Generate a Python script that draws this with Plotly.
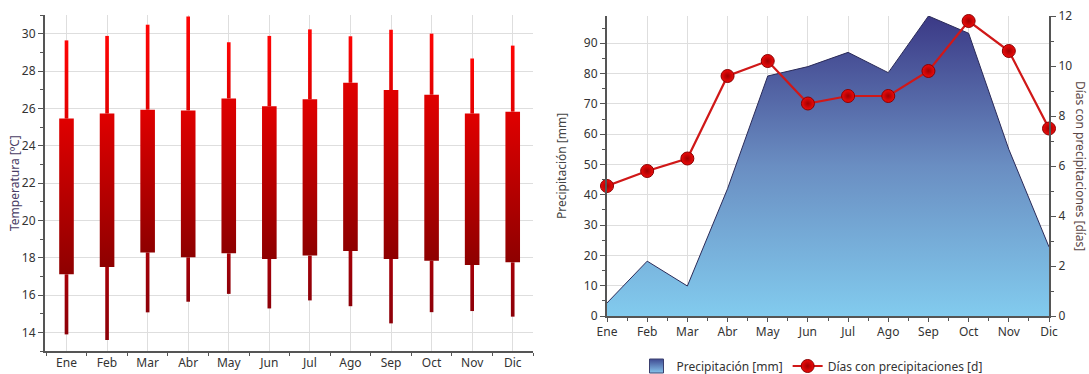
import plotly.graph_objects as go

# Monthly climate data
months = ["Ene", "Feb", "Mar", "Abr", "May", "Jun", "Jul", "Ago", "Sep", "Oct", "Nov", "Dic"]
t_max_abs = [29.64, 29.88, 30.48, 30.92, 29.54, 29.88, 30.23, 29.86, 30.21, 30.0, 28.67, 29.36]
t_max_mean = [25.45, 25.72, 25.93, 25.89, 26.53, 26.11, 26.48, 27.37, 26.98, 26.73, 25.72, 25.82]
t_min_mean = [17.11, 17.50, 18.28, 18.02, 18.23, 17.93, 18.11, 18.36, 17.93, 17.84, 17.61, 17.75]
t_min_abs = [13.89, 13.59, 15.07, 15.64, 16.06, 15.28, 15.71, 15.40, 14.48, 15.08, 15.14, 14.84]
precip = [4.3, 18.1, 9.9, 42.0, 79.2, 82.3, 87.0, 80.3, 99.0, 93.3, 55.0, 22.8]
rain_days = [5.2, 5.8, 6.3, 9.6, 10.2, 8.5, 8.8, 8.8, 9.8, 11.8, 10.6, 7.5]

FONT = "Noto Sans"
TICK_COLOR = "#333333"
GRID = "#dedede"
AXIS = "#555555"

BOX_HALF = 0.18
WHISKER_HALF = 0.045

fig = go.Figure()


def rect(i, lo, hi, half, c_bottom, c_top):
    """Vertical gradient rectangle centred on month index i."""
    x0, x1 = i - half, i + half
    fig.add_trace(go.Scatter(
        x=[x0, x1, x1, x0, x0], y=[lo, lo, hi, hi, lo],
        mode="lines", fill="toself", line=dict(width=0, color="rgba(0,0,0,0)"),
        fillgradient=dict(type="vertical", start=lo, stop=hi,
                          colorscale=[[0, c_bottom], [1, c_top]]),
        xaxis="x", yaxis="y", showlegend=False, hoverinfo="skip",
    ))


for i in range(len(months)):
    rect(i, t_max_mean[i], t_max_abs[i], WHISKER_HALF, "#e20000", "#ff0505")
    rect(i, t_min_abs[i], t_min_mean[i], WHISKER_HALF, "#8c0008", "#a60008")
    rect(i, t_min_mean[i], t_max_mean[i], BOX_HALF, "#8e0000", "#e00000")

# Precipitation area
x_idx = list(range(len(months)))
area_scale = [[0, "#82cbee"], [0.5, "#6a8ec2"], [1, "#3b3986"]]
fig.add_trace(go.Scatter(
    x=x_idx, y=precip, mode="lines", fill="tozeroy",
    line=dict(color="#2a2a58", width=1),
    fillgradient=dict(type="vertical", start=0, stop=99, colorscale=area_scale),
    xaxis="x2", yaxis="y3", hoverinfo="skip", showlegend=False,
))
# legend swatch for the area
fig.add_trace(go.Scatter(
    x=[None], y=[None], mode="markers",
    marker=dict(symbol="square", size=14, color="#3f4a92",
                gradient=dict(type="vertical", color="#86c4ec"),
                line=dict(color="#3a3f6e", width=1)),
    name="Precipitación [mm]", xaxis="x2", yaxis="y3", hoverinfo="skip",
))

# Rainy days line
fig.add_trace(go.Scatter(
    x=x_idx, y=rain_days, mode="lines+markers", cliponaxis=False,
    line=dict(color="#d01818", width=2.2),
    marker=dict(size=13, color="#ee0a0a",
                gradient=dict(type="radial", color="#a00000"),
                line=dict(color="#8a0000", width=1)),
    name="Días con precipitaciones [d]", xaxis="x2", yaxis="y4", hoverinfo="skip",
))

W, H = 1089, 374


def px(x):
    return x / W


def py(y):
    return 1 - y / H


tickfont = dict(family=FONT, size=12, color=TICK_COLOR)

common_axis = dict(automargin=False, zeroline=False, showline=True,
                   linecolor=AXIS, linewidth=2, tickfont=tickfont, tickcolor=AXIS)

fig.update_layout(
    width=W, height=H, margin=dict(l=0, r=0, t=0, b=0, autoexpand=False),
    paper_bgcolor="white", plot_bgcolor="white",
    font=dict(family=FONT, size=12, color=TICK_COLOR),
    xaxis=dict(
        common_axis,
        domain=[px(45), px(533)], range=[-0.53, 11.5],
        tickmode="array", tickvals=x_idx, ticktext=months,
        ticks="", showgrid=True, gridcolor=GRID,
        minor=dict(tickmode="linear", tick0=0.5, dtick=1, ticks="outside",
                   ticklen=3, tickcolor=AXIS, showgrid=False),
        anchor="y",
    ),
    yaxis=dict(
        common_axis,
        domain=[py(351), py(15)], range=[13, 31],
        tickmode="linear", tick0=14, dtick=2,
        ticks="outside", ticklen=5,
        showgrid=True, gridcolor=GRID,
        minor=dict(tickmode="linear", tick0=13, dtick=2, ticks="outside",
                   ticklen=3, tickcolor=AXIS, showgrid=False),
        anchor="x",
    ),
    xaxis2=dict(
        common_axis,
        domain=[px(607), px(1049)], range=[0, 11],
        tickmode="array", tickvals=x_idx, ticktext=months,
        ticks="outside", ticklen=4,
        showgrid=True, gridcolor=GRID,
        minor=dict(tickmode="linear", tick0=0.5, dtick=1, ticks="outside",
                   ticklen=3, tickcolor=AXIS, showgrid=False),
        anchor="y3",
    ),
    yaxis3=dict(
        common_axis,
        domain=[py(316), py(16)], range=[0, 99],
        tickmode="linear", tick0=0, dtick=10,
        ticks="outside", ticklen=5,
        showgrid=True, gridcolor=GRID,
        minor=dict(tickmode="linear", tick0=5, dtick=10, ticks="outside",
                   ticklen=3, tickcolor=AXIS, showgrid=False),
        anchor="x2",
    ),
    yaxis4=dict(
        common_axis,
        overlaying="y3", side="right", range=[0, 12],
        tickmode="linear", tick0=0, dtick=2,
        ticks="outside", ticklen=5,
        showgrid=False,
        minor=dict(tickmode="linear", tick0=1, dtick=2, ticks="outside",
                   ticklen=3, tickcolor=AXIS, showgrid=False),
        anchor="x2",
    ),
    legend=dict(
        orientation="h", x=px(812), xanchor="center", y=py(366), yanchor="middle",
        font=dict(family=FONT, size=12, color=TICK_COLOR),
        bgcolor="rgba(0,0,0,0)", itemwidth=30, tracegroupgap=0,
    ),
    showlegend=True,
    annotations=[
        dict(text="Temperatura [ºC]", x=px(15), y=py(183), xref="paper", yref="paper",
             xanchor="center", yanchor="middle",
             showarrow=False, textangle=-90, font=dict(family=FONT, size=12, color="#4a3d66")),
        dict(text="Precipitación [mm]", x=px(561), y=py(166), xref="paper", yref="paper",
             xanchor="center", yanchor="middle",
             showarrow=False, textangle=-90, font=dict(family=FONT, size=12, color="#444444")),
        dict(text="Días con precipitaciones [días]", x=px(1081), y=py(166), xref="paper", yref="paper",
             xanchor="center", yanchor="middle",
             showarrow=False, textangle=90, font=dict(family=FONT, size=12, color="#5a4646")),
    ],
)

fig.write_html("out.html")
